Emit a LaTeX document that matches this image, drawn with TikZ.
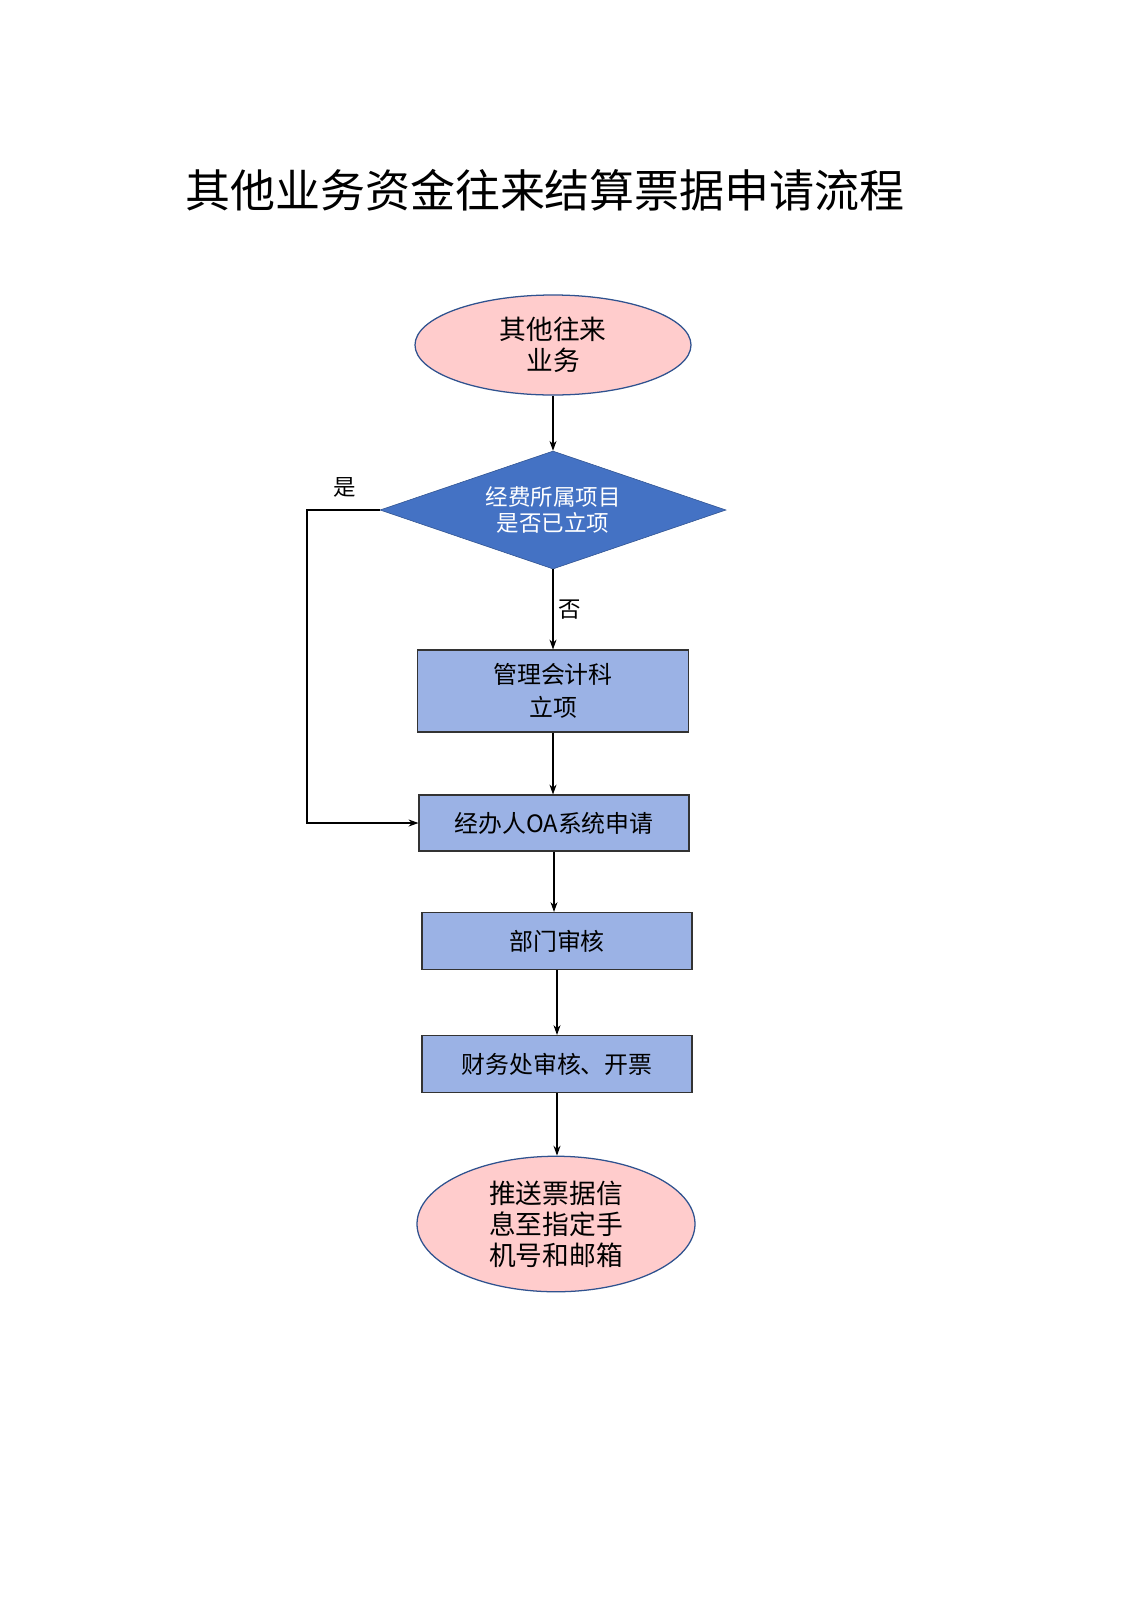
\documentclass[tikz,border=0pt]{standalone}
\usepackage{fontspec}
\setmainfont{Noto Sans CJK SC}
\usetikzlibrary{shapes.geometric,arrows.meta}
\definecolor{pinkfill}{RGB}{255,204,204}
\definecolor{edgeblue}{RGB}{47,82,143}
\definecolor{diafill}{RGB}{68,114,196}
\definecolor{boxfill}{RGB}{155,178,229}
\tikzstyle{line} = [draw, -{Stealth[length=7pt,width=5pt]}, line width=0.9pt]
\tikzstyle{term} = [ellipse, draw=edgeblue, line width=0.9pt, fill=pinkfill, align=center, font=\fontsize{19}{22}\selectfont]
\tikzstyle{decide} = [diamond, draw=edgeblue, fill=diafill, text=white, align=center, aspect=2.9, inner sep=0pt, font=\fontsize{16}{19}\selectfont]
\tikzstyle{proc} = [rectangle, draw=black!80, line width=0.8pt, fill=boxfill, align=center, font=\fontsize{17}{23}\selectfont]

\begin{document}
\begin{tikzpicture}[x=0.025cm, y=-0.025cm]
		\useasboundingbox (0,0) rectangle (1131,1600);
		\node[font=\fontsize{32}{36}\selectfont] (title) at (545,190) {其他业务资金往来结算票据申请流程};
		
		\node[term, minimum width=276*0.025cm, minimum height=100*0.025cm] (start) at (553,345) {其他往来\\业务};
		\node[decide, minimum width=346*0.025cm, minimum height=118*0.025cm] (check) at (553,510) {经费所属项目\\是否已立项};
		
		\node[proc, minimum width=271*0.025cm, minimum height=82*0.025cm] (lixiang) at (553,691) {管理会计科\\立项};
		\node[proc, minimum width=270*0.025cm, minimum height=56*0.025cm] (apply) at (554,823) {经办人OA系统申请};
		\node[proc, minimum width=270*0.025cm, minimum height=57*0.025cm] (dept) at (557,941) {部门审核};
		\node[proc, minimum width=270*0.025cm, minimum height=57*0.025cm] (finance) at (557,1064) {财务处审核、开票};
		\node[term, minimum width=278*0.025cm, minimum height=134*0.025cm] (push) at (556,1224) {推送票据信\\息至指定手\\机号和邮箱};
		
		\path [line] (start) to (check);
		\path [line] (check) to node [right, font=\fontsize{16}{18}\selectfont] {否} (lixiang);
		\path [line] (lixiang.south) to (lixiang.south |- apply.north);
		\path [line] (apply.south) to (apply.south |- dept.north);
		\path [line] (dept) to (finance);
		\path [line] (finance.south) to (finance.south |- push.north);
		
		\coordinate (loop) at (307,510);
		\path [line] (check.west) -- (loop) |- (apply.west);
		\node[font=\fontsize{16}{18}\selectfont] (yes) at (345,487) {是};
\end{tikzpicture}
\end{document}
